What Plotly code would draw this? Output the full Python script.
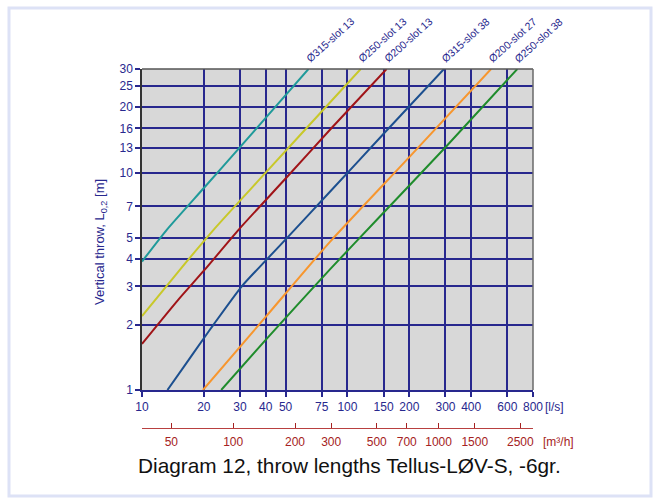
import math
import plotly.graph_objects as go

# Flow rate [l/s] and vertical throw L0,2 [m] for each diffuser variant
names = ["Ø315-slot 13", "Ø250-slot 13", "Ø200-slot 13",
         "Ø315-slot 38", "Ø200-slot 27", "Ø250-slot 38"]

flow_315_13 = [10, 13.2, 20, 30, 45, 64.6]
throw_315_13 = [3.9, 5.46, 8.5, 13.1, 20.3, 30]

flow_250_13 = [10, 15, 22.3, 40, 82.4, 116]
throw_250_13 = [2.19, 3.5, 5.46, 10.0, 21.1, 30]

flow_200_13 = [10, 15, 20, 29.5, 50, 82.4, 155]
throw_200_13 = [1.63, 2.6, 3.54, 5.46, 9.4, 15.8, 30]

flow_315_38 = [13.3, 16, 20, 22.3, 30.6, 40.6, 50.7, 82.4, 150, 295]
throw_315_38 = [1, 1.28, 1.73, 2, 3, 4, 5, 8.19, 15.1, 30]

flow_200_27 = [19.8, 40, 82.4, 200, 500]
throw_200_27 = [1, 2.17, 4.82, 11.8, 30]

flow_250_38 = [24.3, 40, 82.4, 139, 300, 671]
throw_250_38 = [1, 1.70, 3.6, 6.07, 13.1, 30]

colors = ["#1f9a9a", "#c8c82a", "#a01418", "#1c4f8f", "#f7962e", "#1f8c2c"]

# Axis ticks
ls_ticks = [10, 20, 30, 40, 50, 75, 100, 150, 200, 300, 400, 600, 800]
m3h_ticks = [50, 100, 200, 300, 500, 700, 1000, 1500, 2500]
throw_ticks = [1, 2, 3, 4, 5, 7, 10, 13, 16, 20, 25, 30]

LS_MIN, LS_MAX = 10, 800
M3H_PER_LS = 3.6

NAVY = "#28288e"
DARKRED = "#a52222"
FONT = "Arial, Liberation Sans, Helvetica, sans-serif"
TICK_SIZE = 12

series = [
    (flow_315_13, throw_315_13),
    (flow_250_13, throw_250_13),
    (flow_200_13, throw_200_13),
    (flow_315_38, throw_315_38),
    (flow_200_27, throw_200_27),
    (flow_250_38, throw_250_38),
]

fig = go.Figure()
for name, (fx, fy), col in zip(names, series, colors):
    fig.add_trace(go.Scatter(
        x=fx, y=fy, mode="lines", name=name,
        line=dict(color=col, width=2, shape="spline", smoothing=0.6),
        showlegend=False, hoverinfo="x+y+name",
    ))

# Carrier trace so the m³/h scale is drawn
fig.add_trace(go.Scatter(
    x=m3h_ticks, y=[1] * len(m3h_ticks), xaxis="x2", yaxis="y",
    mode="markers", marker=dict(opacity=0), showlegend=False, hoverinfo="skip",
))

W, H = 660, 504
M_L, M_R, M_T, M_B = 142, 127, 69, 76
plot_bottom_px = 390
paper_h = H - M_T - M_B
y_dom0 = (H - M_B - plot_bottom_px) / paper_h

fig.update_layout(
    width=W, height=H,
    margin=dict(l=M_L, r=M_R, t=M_T, b=M_B, pad=0),
    paper_bgcolor="white",
    plot_bgcolor="#d8d8d8",
    font=dict(family=FONT, size=TICK_SIZE, color=NAVY),
    xaxis=dict(
        type="log", range=[math.log10(LS_MIN), math.log10(LS_MAX)],
        tickvals=ls_ticks, ticktext=[str(v) for v in ls_ticks],
        ticks="outside", ticklen=5, tickwidth=1.5, tickcolor=NAVY,
        tickfont=dict(size=TICK_SIZE, color=NAVY, family=FONT),
        showgrid=True, gridcolor=NAVY, gridwidth=1.5,
        showline=True, linecolor=NAVY, linewidth=1.5,
        zeroline=False, anchor="y",
    ),
    xaxis2=dict(
        type="log",
        range=[math.log10(LS_MIN * M3H_PER_LS), math.log10(LS_MAX * M3H_PER_LS)],
        overlaying="x", anchor="free", position=0, side="bottom",
        tickvals=m3h_ticks, ticktext=[str(v) for v in m3h_ticks],
        ticks="inside", ticklen=5, tickwidth=1, tickcolor=DARKRED,
        ticklabelstandoff=3,
        tickfont=dict(size=TICK_SIZE, color=DARKRED, family=FONT),
        showgrid=False, showline=True, linecolor="#b84040", linewidth=1,
        zeroline=False,
    ),
    yaxis=dict(
        type="log", range=[0, math.log10(30)], domain=[y_dom0, 1],
        tickvals=throw_ticks, ticktext=[str(v) for v in throw_ticks],
        ticks="outside", ticklen=5, tickwidth=1.5, tickcolor=NAVY,
        tickfont=dict(size=TICK_SIZE, color=NAVY, family=FONT),
        showgrid=True, gridcolor=NAVY, gridwidth=1.5,
        showline=True, linecolor="#333333", linewidth=1.5,
        zeroline=False,
    ),
)

# Top and right frame of the plotting area
fig.add_shape(type="line", xref="x domain", yref="y domain",
              x0=0, x1=1, y0=1, y1=1, line=dict(color="#555555", width=1.5))
fig.add_shape(type="line", xref="x domain", yref="y domain",
              x0=1, x1=1, y0=0, y1=1, line=dict(color="#6a6a6a", width=1.5))

# Light outer frame
def px_to_paper_x(px):
    return (px - M_L) / (W - M_L - M_R)

def px_to_paper_y(py):
    return (H - M_B - py) / paper_h

fig.add_shape(type="rect", xref="paper", yref="paper",
              x0=px_to_paper_x(9), x1=px_to_paper_x(651),
              y0=px_to_paper_y(496), y1=px_to_paper_y(8),
              line=dict(color="#dde2f6", width=3), layer="below")

# Series labels at the top end of each curve
for name, (fx, fy) in zip(names, series):
    fig.add_annotation(
        x=math.log10(fx[-1]), y=math.log10(fy[-1]), xref="x", yref="y",
        text=name, showarrow=False, textangle=-42,
        xanchor="left", yanchor="bottom", xshift=-8, yshift=2,
        font=dict(size=10.5, color=NAVY, family=FONT),
    )

# Unit labels for both flow scales
fig.add_annotation(x=1, y=0, xref="x domain", yref="y domain",
                   text="[l/s]", showarrow=False, xanchor="left", yanchor="middle",
                   xshift=10, yshift=-17, font=dict(size=TICK_SIZE, color=NAVY, family=FONT))
fig.add_annotation(x=1, y=0, xref="x domain", yref="paper",
                   text="[m³/h]", showarrow=False, xanchor="left", yanchor="middle",
                   xshift=8, yshift=-14, font=dict(size=TICK_SIZE, color=DARKRED, family=FONT))

# Vertical axis title
fig.add_annotation(x=0, y=0.461, xref="x domain", yref="y domain",
                   text="Vertical throw, L<sub>0,2</sub> [m]", showarrow=False,
                   textangle=-90, xanchor="center", yanchor="middle", xshift=-42,
                   font=dict(size=13, color=NAVY, family=FONT))

# Caption under the chart
fig.add_annotation(x=0.5, y=0, xref="paper", yref="paper",
                   text="Diagram 12, throw lengths Tellus-LØV-S, -6gr.",
                   showarrow=False, xanchor="center", yanchor="middle",
                   xshift=349 - (M_L + (W - M_L - M_R) / 2),
                   yshift=-(465 - (H - M_B)),
                   font=dict(size=20.8, color="#111111", family=FONT))

fig.write_html("out.html")
